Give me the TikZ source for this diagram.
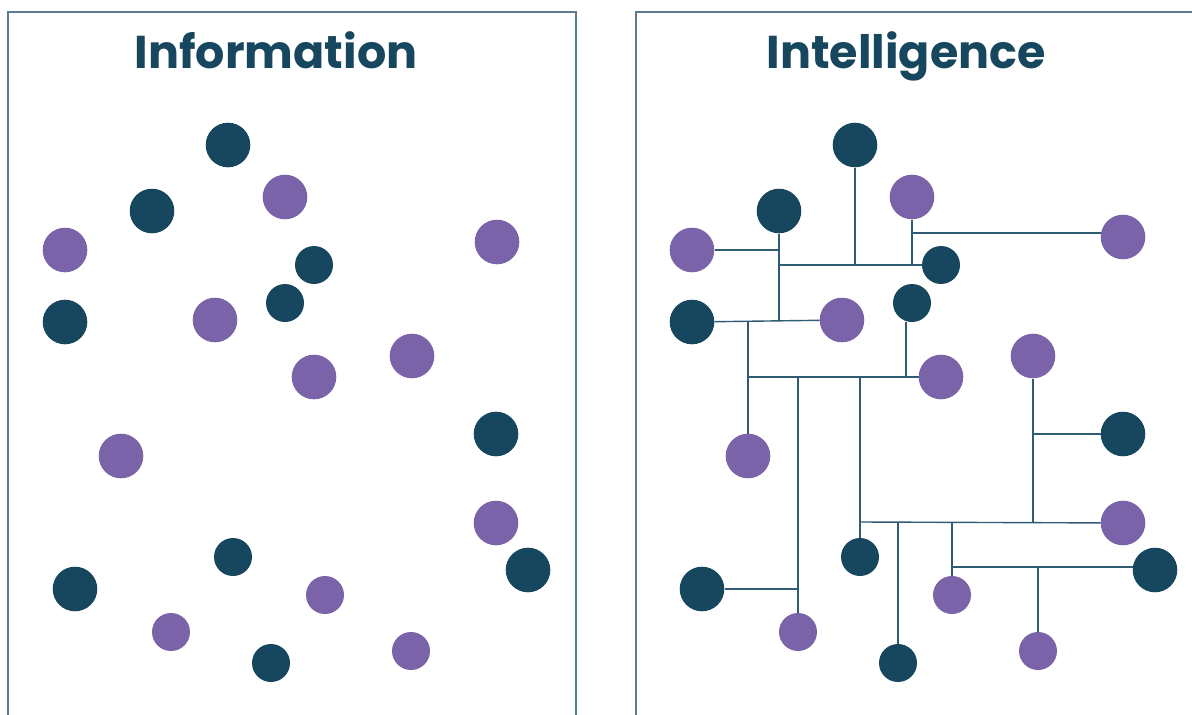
\documentclass[tikz,border=0pt]{standalone}
\usepackage{fontspec}
\setmainfont{Poppins}
\usepackage{tikz}
\usetikzlibrary{calc,positioning}

\definecolor{navy}{HTML}{17475F}
\definecolor{plum}{HTML}{7A63A8}
\definecolor{wirec}{HTML}{2F5B73}
\definecolor{framec}{HTML}{5B7C90}

\begin{document}
\begin{tikzpicture}[x=1pt,y=-1pt,
		dot/.style={circle, inner sep=0pt, minimum size=44.6pt},
		dk/.style={fill=navy},
		pu/.style={fill=plum},
		dks/.style={fill=navy, minimum size=38pt},
		pus/.style={fill=plum, minimum size=38pt},
		wire/.style={wirec, line width=1.4pt},
		frame/.style={framec, line width=1.3pt},
		title/.style={anchor=base, text=navy, font=\fontsize{46}{50}\selectfont\bfseries}]
		\useasboundingbox (0,0) rectangle (1192,715);

		% frames and titles
		\draw[frame] (8,715) -- (8,12) -- (576,12) -- (576,715);
		\draw[frame] (636,715) -- (636,12) -- (1200,12);
		\node[title] (infoT) at (276,68) {Information};
		\node[title] (intelT) at (906,68) {Intelligence};

		% the same dots in both panels: L = information, R = intelligence
		\foreach \n/\x/\y/\k in {D1/855/145/dk, P1/912/197/pu, D2/779/211/dk,
				P3/692/250/pu, D3/941/265/dks, D4/912/303/dks,
				D5/692/322/dk, P4/842/320/pu, P6/941/377/pu,
				D6/1123/434/dk, P7/748/456/pu, P8/1123/523/pu, D7/1155/570/dk,
				D8/860/557/dks, D9/702/589/dk, P9/952/595/pus,
				P10/798/632/pus, P11/1038/651/pus, D10/898/663/dks}
		{
			\node[dot, \k] (L\n) at (\x-627,\y) {};
			\node[dot, \k] (R\n) at (\x,\y) {};
		}
		% these two sit a little apart in the left panel
		\node[dot, pu] (LP2) at (497,242) {};
		\node[dot, pu] (RP2) at (1123,237) {};
		\node[dot, pu] (LP5) at (412,356) {};
		\node[dot, pu] (RP5) at (1033,356) {};

		% junctions of the intelligence network
		\coordinate (busA) at (778,265);
		\coordinate (toP2) at (912,233);
		\coordinate (endD2) at (778,321);
		\coordinate (topP7) at (748,322);
		\coordinate (busB) at (748,377);
		\coordinate (topP10) at (798,377);
		\coordinate (topD8) at (860,377);
		\coordinate (busC) at (860,522);
		\coordinate (toD7) at (952,567);

		\draw[wire] (RD1) -- (RD1 |- busA);
		\draw[wire] (busA) -- (RD3);
		\draw[wire] (RP1) -- (RP1 |- busA);
		\draw[wire] (toP2) -- (toP2 -| RP2.west);
		\draw[wire] (RD2) -- (RD2 |- endD2);
		\draw[wire] (RP3) -- (RP3 -| RD2);
		\draw[wire] (RD5) -- (RP4);
		\draw[wire] (topP7) -- (RP7);
		\draw[wire] (busB) -- (RP6);
		\draw[wire] ([xshift=-6pt]RD4.south) -- ([xshift=-6pt]RD4.south |- busB);
		\draw[wire] (topP10) -- (RP10);
		\draw[wire] (RD9) -- (RD9 -| RP10);
		\draw[wire] (topD8) -- (RD8);
		\draw[wire] (busC) -- (RP8);
		\draw[wire] (busC -| RD10) -- (RD10);
		\draw[wire] (busC -| RP9) -- (RP9);
		\draw[wire] (toD7) -- (toD7 -| RD7.west);
		\draw[wire] (toD7 -| RP11) -- (RP11);
		\draw[wire] (RP5) -- (RP5 |- busC);
		\draw[wire] (RP5 |- RD6) -- (RD6);
	\end{tikzpicture}
\end{document}
